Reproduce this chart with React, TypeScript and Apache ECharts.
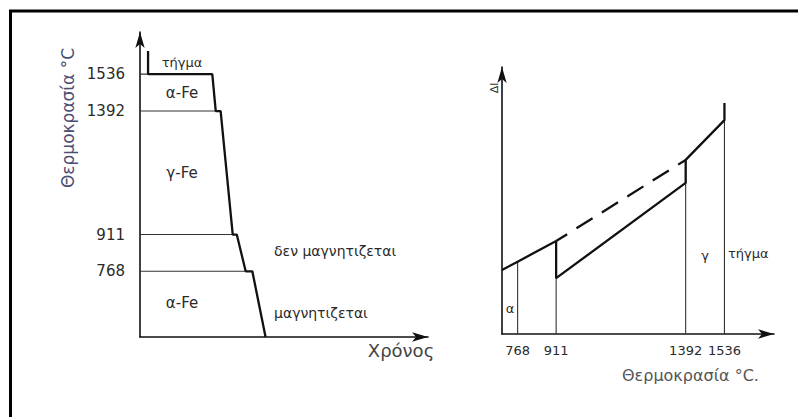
import React, { useEffect, useRef } from "react";
import * as echarts from "echarts";

// Transformation temperatures of pure iron (°C)
const transitionTemps = [1536, 1392, 911, 768];

// Cooling curve (left): time (arb. units) vs temperature
const coolTime = [2.8, 2.8, 25.1, 26.3, 28.0, 32.2, 33.6, 36.7, 39.0, 43.6];
const coolTemp = [1626, 1536, 1536, 1392, 1392, 911, 911, 768, 768, 512];
// time at which each transition plateau begins (same order as transitionTemps)
const plateauStart = [2.8, 26.3, 32.2, 36.7];

// Dilatation curve (right): temperature vs Δl (arb. units)
const alphaTemp = [710, 768, 911];
const alphaDl = [24.0, 27.1, 34.8];
const gammaTemp = [911, 911, 1392, 1392, 1536, 1536];
const gammaDl = [34.8, 20.9, 56.6, 65.2, 80.1, 86.5];
const extrapTemp = [911, 1392];
const extrapDl = [34.8, 65.2];
// Δl reached by the curve at each transition (same order as transitionTemps)
const guideDl = [80.1, 65.2, 34.8, 27.1];

const FONT = "DejaVu Sans";
const INK = "#111";
const THIN = "#333";

const pairs = (xs: number[], ys: number[]) => xs.map((x, i) => [x, ys[i]]);

export default function App() {
  const ref = useRef<HTMLDivElement>(null);

  useEffect(() => {
    if (!ref.current) return;
    const chart = echarts.init(ref.current, undefined, { renderer: "svg" });

    const thick = { color: INK, width: 2.3 };
    const thin = { color: THIN, width: 1.1 };
    const lineSeries = (data: number[][], idx: number, style: any) => ({
      type: "line",
      xAxisIndex: idx,
      yAxisIndex: idx,
      data,
      symbol: "none",
      silent: true,
      lineStyle: style,
      z: style.width > 2 ? 3 : 2,
    });

    const leftGuides = transitionTemps.map((t, i) =>
      lineSeries([[0, t], [plateauStart[i], t]], 0, thin)
    );
    const rightGuides = transitionTemps.map((t, i) =>
      lineSeries([[t, 0], [t, guideDl[i]]], 1, thin)
    );

    const axisLine = {
      show: true,
      onZero: false,
      symbol: ["none", "arrow"],
      symbolSize: [7, 16],
      lineStyle: { color: INK, width: 1.6 },
    };

    const plain = (v: number) => String(v);

    const txt = (
      text: string,
      x: number,
      y: number,
      size: number,
      extra: any = {}
    ) => ({
      type: "text",
      x,
      y,
      silent: true,
      ...extra,
      style: {
        text,
        fontFamily: FONT,
        fontSize: size,
        fill: extra.fill || "#2a2a2a",
        align: extra.align || "center",
        verticalAlign: "middle",
      },
    });

    chart.setOption({
      animation: false,
      backgroundColor: "#ffffff",
      grid: [
        { left: 140, top: 32, width: 288, height: 305 },
        { left: 502, top: 67, width: 272, height: 267 },
      ],
      xAxis: [
        {
          gridIndex: 0,
          type: "value",
          min: 0,
          max: 100,
          axisLine,
          axisTick: { show: false },
          axisLabel: { show: false },
          splitLine: { show: false },
        },
        {
          gridIndex: 1,
          type: "value",
          min: 710,
          max: 1720,
          axisLine,
          axisTick: { show: false },
          splitLine: { show: false },
          axisLabel: {
            customValues: transitionTemps,
            formatter: plain,
            fontFamily: FONT,
            fontSize: 13,
            color: "#2a2a2a",
            margin: 10,
          },
        },
      ],
      yAxis: [
        {
          gridIndex: 0,
          type: "value",
          min: 512,
          max: 1700,
          axisLine,
          axisTick: { show: false },
          splitLine: { show: false },
          axisLabel: {
            customValues: transitionTemps,
            formatter: plain,
            fontFamily: FONT,
            fontSize: 15,
            color: "#2a2a2a",
            margin: 15,
          },
        },
        {
          gridIndex: 1,
          type: "value",
          min: 0,
          max: 100,
          axisLine,
          axisTick: { show: false },
          axisLabel: { show: false },
          splitLine: { show: false },
        },
      ],
      series: [
        ...leftGuides,
        lineSeries(pairs(coolTime, coolTemp), 0, thick),
        ...rightGuides,
        lineSeries(pairs(alphaTemp, alphaDl), 1, thick),
        lineSeries(pairs(gammaTemp, gammaDl), 1, thick),
        lineSeries(pairs(extrapTemp, extrapDl), 1, {
          ...thick,
          type: [19, 11],
          dashOffset: 6,
        }),
      ],
      graphic: [
        // frame
        {
          type: "line",
          silent: true,
          shape: { x1: 9, y1: 11, x2: 798, y2: 11 },
          style: { stroke: "#000", lineWidth: 3 },
        },
        {
          type: "line",
          silent: true,
          shape: { x1: 10.5, y1: 10, x2: 10.5, y2: 417 },
          style: { stroke: "#000", lineWidth: 3 },
        },
        // left panel
        txt("Θερμοκρασία °C", 68, 118, 17, {
          rotation: Math.PI / 2,
          fill: "#4b4e72",
        }),
        txt("Χρόνος", 401, 350, 18, { fill: "#444" }),
        txt("τήγμα", 182, 62, 13),
        txt("α-Fe", 182, 93, 15),
        txt("γ-Fe", 182, 173, 15),
        txt("α-Fe", 182, 303, 15),
        txt("δεν μαγνητιζεται", 274, 251, 14, { align: "left" }),
        txt("μαγνητιζεται", 274, 313, 14, { align: "left" }),
        // right panel
        txt("Δl", 494, 88, 11, { rotation: Math.PI / 2 }),
        txt("α", 510, 308, 13),
        txt("γ", 705, 255, 13),
        txt("τήγμα", 728, 253, 13, { align: "left" }),
        txt("Θερμοκρασία °C.", 622, 375, 16, {
          align: "left",
          fill: "#555",
        }),
      ],
    });

    return () => chart.dispose();
  }, []);

  return (
    <div
      ref={ref}
      style={{
        position: "fixed",
        left: 0,
        top: 0,
        width: 798,
        height: 417,
        background: "#fff",
      }}
    />
  );
}
